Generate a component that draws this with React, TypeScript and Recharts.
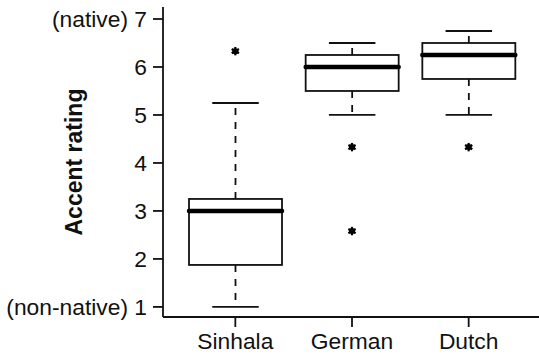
import React from "react";
import { ComposedChart, XAxis, YAxis, Bar, Line, Label } from "recharts";

const categories = ["Sinhala", "German", "Dutch"];
const mins = [1, 5, 5];
const q1s = [1.875, 5.5, 5.75];
const medians = [3, 6, 6.25];
const q3s = [3.25, 6.25, 6.5];
const maxs = [5.25, 6.5, 6.75];
const outliersA = [6.33, 4.33, 4.33];
const outliersB = [null, 2.58, null];
const yTicks = [1, 2, 3, 4, 5, 6, 7];
const yTickLabels: Record<number, string> = { 1: "(non-native) 1", 7: "(native) 7" };

const data = categories.map((name, i) => ({
  name,
  base: mins[i],
  whiskLo: q1s[i] - mins[i],
  boxLo: medians[i] - q1s[i],
  boxHi: q3s[i] - medians[i],
  whiskHi: maxs[i] - q3s[i],
  outA: outliersA[i],
  outB: outliersB[i],
}));

const INK = "#111";
const FONT = "'Liberation Sans', Arial, sans-serif";

const WhiskerLow = (p: any) => {
  const cx = p.x + p.width / 2;
  return (
    <g>
      <line x1={cx} x2={cx} y1={p.y} y2={p.y + p.height} stroke={INK} strokeWidth={1.8} strokeDasharray="7 7" />
      <line x1={p.x + p.width / 4} x2={p.x + (3 * p.width) / 4} y1={p.y + p.height} y2={p.y + p.height} stroke={INK} strokeWidth={1.8} />
    </g>
  );
};

const WhiskerHigh = (p: any) => {
  const cx = p.x + p.width / 2;
  return (
    <g>
      <line x1={cx} x2={cx} y1={p.y + p.height} y2={p.y} stroke={INK} strokeWidth={1.8} strokeDasharray="7 7" />
      <line x1={p.x + p.width / 4} x2={p.x + (3 * p.width) / 4} y1={p.y} y2={p.y} stroke={INK} strokeWidth={1.8} />
    </g>
  );
};

const BoxLow = (p: any) => (
  <rect x={p.x} y={p.y} width={p.width} height={p.height} fill="#fff" stroke={INK} strokeWidth={1.8} />
);

const BoxHigh = (p: any) => (
  <g>
    <rect x={p.x} y={p.y} width={p.width} height={p.height} fill="#fff" stroke={INK} strokeWidth={1.8} />
    <line x1={p.x} x2={p.x + p.width} y1={p.y + p.height} y2={p.y + p.height} stroke="#000" strokeWidth={4.5} strokeLinecap="round" />
  </g>
);

const Star = (p: any) => {
  if (p.cy == null || p.value == null || isNaN(p.cy)) return <g key={p.key} />;
  const r = 4.2;
  return (
    <g key={p.key}>
      <circle cx={p.cx} cy={p.cy} r={3} fill="#000" />
      {[0, 60, 120].map((a) => {
        const t = (a * Math.PI) / 180;
        return (
          <line key={a} x1={p.cx - r * Math.sin(t)} y1={p.cy - r * Math.cos(t)} x2={p.cx + r * Math.sin(t)} y2={p.cy + r * Math.cos(t)} stroke="#000" strokeWidth={2.2} />
        );
      })}
    </g>
  );
};

export default function App() {
  return (
    <div style={{ position: "absolute", left: 0, top: 0, width: 539, height: 358, overflow: "hidden", background: "#fff" }}>
      <ComposedChart width={560} height={358} data={data} margin={{ top: 7, right: 19, bottom: 0, left: 0 }}>
        <XAxis
          dataKey="name"
          type="category"
          padding={{ left: 14, right: 14 }}
          height={41}
          tickSize={10}
          tickMargin={6}
          axisLine={{ stroke: INK, strokeWidth: 1.8 }}
          tickLine={{ stroke: INK, strokeWidth: 1.8 }}
          tick={{ fill: INK, fontSize: 22.8, fontFamily: FONT }}
        />
        <XAxis
          xAxisId="top"
          dataKey="name"
          orientation="top"
          height={0}
          tick={false}
          tickLine={false}
          axisLine={{ stroke: INK, strokeWidth: 1.8 }}
        />
        <YAxis
          type="number"
          domain={[0.79, 7.25]}
          allowDataOverflow
          ticks={yTicks}
          width={163}
          tickSize={10}
          tickMargin={6}
          tickFormatter={(v: number) => yTickLabels[v] ?? String(v)}
          axisLine={{ stroke: INK, strokeWidth: 1.8 }}
          tickLine={{ stroke: INK, strokeWidth: 1.8 }}
          tick={{ fill: INK, fontSize: 22.8, fontFamily: FONT }}
        >
          <Label
            content={(props: any) => {
              const vb = props.viewBox || { x: 0, y: 7, height: 310 };
              const cy = vb.y + vb.height / 2;
              return (
                <text x={82} y={cy} transform={`rotate(-90, 82, ${cy})`} textAnchor="middle" fontSize={23} fontWeight="bold" fontFamily={FONT} fill={INK}>
                  Accent rating
                </text>
              );
            }}
          />
        </YAxis>
        <Bar dataKey="base" stackId="b" fill="none" barSize={93} isAnimationActive={false} shape={() => <g />} />
        <Bar dataKey="whiskLo" stackId="b" barSize={93} isAnimationActive={false} shape={WhiskerLow} />
        <Bar dataKey="boxLo" stackId="b" barSize={93} isAnimationActive={false} shape={BoxLow} />
        <Bar dataKey="boxHi" stackId="b" barSize={93} isAnimationActive={false} shape={BoxHigh} />
        <Bar dataKey="whiskHi" stackId="b" barSize={93} isAnimationActive={false} shape={WhiskerHigh} />
        <Line dataKey="outA" stroke="none" isAnimationActive={false} dot={Star} activeDot={false} />
        <Line dataKey="outB" stroke="none" isAnimationActive={false} dot={Star} activeDot={false} />
      </ComposedChart>
    </div>
  );
}
